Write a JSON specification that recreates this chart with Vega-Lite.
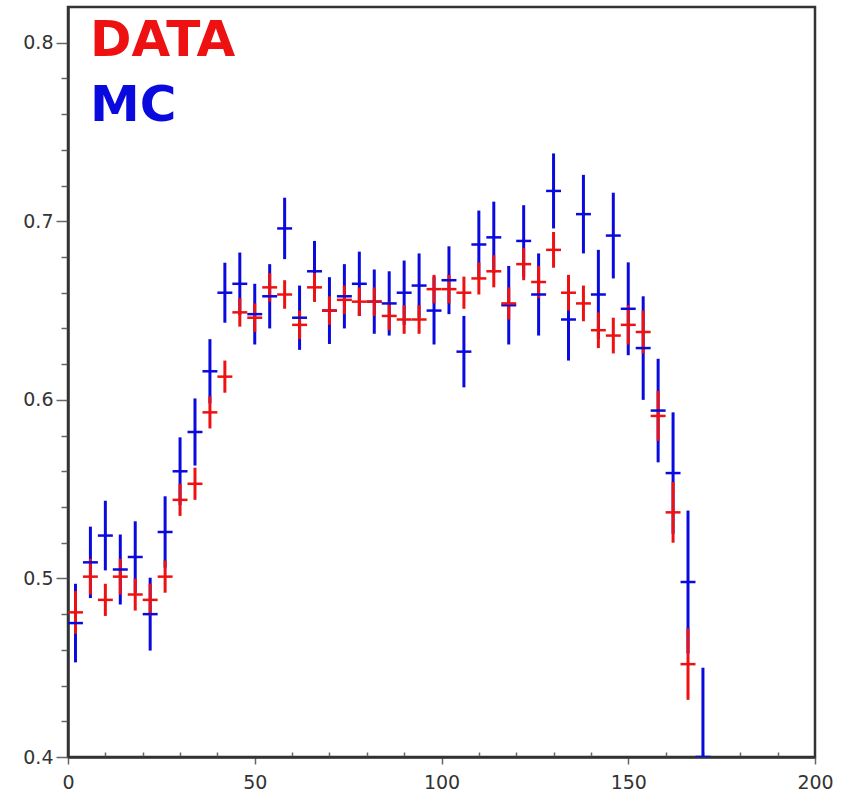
{
  "$schema": "https://vega.github.io/schema/vega-lite/v6.json",
  "width": 747,
  "height": 750,
  "autosize": {"type": "none"},
  "padding": {"left": 68, "top": 7, "right": 27, "bottom": 37},
  "background": "white",
  "config": {
    "view": {"stroke": "#333333", "strokeWidth": 2.5},
    "axis": {
      "grid": false,
      "domainColor": "#333333",
      "domainWidth": 2.5,
      "tickColor": "#666666",
      "tickWidth": 1.5,
      "labelColor": "#333333",
      "labelFont": "DejaVu Sans",
      "labelFontSize": 19
    }
  },
  "datasets": {
    "points": [
      {"series": "MC", "x": 2, "y": 0.475, "ey": 0.022, "ex": 2},
      {"series": "MC", "x": 6, "y": 0.509, "ey": 0.020, "ex": 2},
      {"series": "MC", "x": 10, "y": 0.524, "ey": 0.0195, "ex": 2},
      {"series": "MC", "x": 14, "y": 0.505, "ey": 0.0196, "ex": 2},
      {"series": "MC", "x": 18, "y": 0.512, "ey": 0.020, "ex": 2},
      {"series": "MC", "x": 22, "y": 0.480, "ey": 0.0204, "ex": 2},
      {"series": "MC", "x": 26, "y": 0.526, "ey": 0.020, "ex": 2},
      {"series": "MC", "x": 30, "y": 0.560, "ey": 0.019, "ex": 2},
      {"series": "MC", "x": 34, "y": 0.582, "ey": 0.0188, "ex": 2},
      {"series": "MC", "x": 38, "y": 0.616, "ey": 0.018, "ex": 2},
      {"series": "MC", "x": 42, "y": 0.660, "ey": 0.0168, "ex": 2},
      {"series": "MC", "x": 46, "y": 0.665, "ey": 0.0175, "ex": 2},
      {"series": "MC", "x": 50, "y": 0.648, "ey": 0.017, "ex": 2},
      {"series": "MC", "x": 54, "y": 0.658, "ey": 0.018, "ex": 2},
      {"series": "MC", "x": 58, "y": 0.696, "ey": 0.0172, "ex": 2},
      {"series": "MC", "x": 62, "y": 0.646, "ey": 0.018, "ex": 2},
      {"series": "MC", "x": 66, "y": 0.672, "ey": 0.017, "ex": 2},
      {"series": "MC", "x": 70, "y": 0.650, "ey": 0.0187, "ex": 2},
      {"series": "MC", "x": 74, "y": 0.658, "ey": 0.018, "ex": 2},
      {"series": "MC", "x": 78, "y": 0.665, "ey": 0.018, "ex": 2},
      {"series": "MC", "x": 82, "y": 0.655, "ey": 0.018, "ex": 2},
      {"series": "MC", "x": 86, "y": 0.654, "ey": 0.018, "ex": 2},
      {"series": "MC", "x": 90, "y": 0.660, "ey": 0.018, "ex": 2},
      {"series": "MC", "x": 94, "y": 0.664, "ey": 0.018, "ex": 2},
      {"series": "MC", "x": 98, "y": 0.650, "ey": 0.019, "ex": 2},
      {"series": "MC", "x": 102, "y": 0.667, "ey": 0.019, "ex": 2},
      {"series": "MC", "x": 106, "y": 0.627, "ey": 0.020, "ex": 2},
      {"series": "MC", "x": 110, "y": 0.687, "ey": 0.019, "ex": 2},
      {"series": "MC", "x": 114, "y": 0.691, "ey": 0.020, "ex": 2},
      {"series": "MC", "x": 118, "y": 0.653, "ey": 0.022, "ex": 2},
      {"series": "MC", "x": 122, "y": 0.689, "ey": 0.020, "ex": 2},
      {"series": "MC", "x": 126, "y": 0.659, "ey": 0.023, "ex": 2},
      {"series": "MC", "x": 130, "y": 0.717, "ey": 0.021, "ex": 2},
      {"series": "MC", "x": 134, "y": 0.645, "ey": 0.023, "ex": 2},
      {"series": "MC", "x": 138, "y": 0.704, "ey": 0.022, "ex": 2},
      {"series": "MC", "x": 142, "y": 0.659, "ey": 0.025, "ex": 2},
      {"series": "MC", "x": 146, "y": 0.692, "ey": 0.024, "ex": 2},
      {"series": "MC", "x": 150, "y": 0.651, "ey": 0.026, "ex": 2},
      {"series": "MC", "x": 154, "y": 0.629, "ey": 0.029, "ex": 2},
      {"series": "MC", "x": 158, "y": 0.594, "ey": 0.029, "ex": 2},
      {"series": "MC", "x": 162, "y": 0.559, "ey": 0.034, "ex": 2},
      {"series": "MC", "x": 166, "y": 0.498, "ey": 0.040, "ex": 2},
      {"series": "MC", "x": 170, "y": 0.400, "ey": 0.050, "ex": 2},
      {"series": "DATA", "x": 2, "y": 0.481, "ey": 0.012, "ex": 2},
      {"series": "DATA", "x": 6, "y": 0.501, "ey": 0.010, "ex": 2},
      {"series": "DATA", "x": 10, "y": 0.488, "ey": 0.009, "ex": 2},
      {"series": "DATA", "x": 14, "y": 0.501, "ey": 0.010, "ex": 2},
      {"series": "DATA", "x": 18, "y": 0.491, "ey": 0.009, "ex": 2},
      {"series": "DATA", "x": 22, "y": 0.488, "ey": 0.009, "ex": 2},
      {"series": "DATA", "x": 26, "y": 0.501, "ey": 0.009, "ex": 2},
      {"series": "DATA", "x": 30, "y": 0.544, "ey": 0.009, "ex": 2},
      {"series": "DATA", "x": 34, "y": 0.553, "ey": 0.009, "ex": 2},
      {"series": "DATA", "x": 38, "y": 0.593, "ey": 0.009, "ex": 2},
      {"series": "DATA", "x": 42, "y": 0.613, "ey": 0.009, "ex": 2},
      {"series": "DATA", "x": 46, "y": 0.649, "ey": 0.008, "ex": 2},
      {"series": "DATA", "x": 50, "y": 0.646, "ey": 0.008, "ex": 2},
      {"series": "DATA", "x": 54, "y": 0.663, "ey": 0.008, "ex": 2},
      {"series": "DATA", "x": 58, "y": 0.659, "ey": 0.008, "ex": 2},
      {"series": "DATA", "x": 62, "y": 0.642, "ey": 0.008, "ex": 2},
      {"series": "DATA", "x": 66, "y": 0.663, "ey": 0.008, "ex": 2},
      {"series": "DATA", "x": 70, "y": 0.650, "ey": 0.008, "ex": 2},
      {"series": "DATA", "x": 74, "y": 0.656, "ey": 0.008, "ex": 2},
      {"series": "DATA", "x": 78, "y": 0.655, "ey": 0.008, "ex": 2},
      {"series": "DATA", "x": 82, "y": 0.655, "ey": 0.008, "ex": 2},
      {"series": "DATA", "x": 86, "y": 0.647, "ey": 0.008, "ex": 2},
      {"series": "DATA", "x": 90, "y": 0.645, "ey": 0.008, "ex": 2},
      {"series": "DATA", "x": 94, "y": 0.645, "ey": 0.008, "ex": 2},
      {"series": "DATA", "x": 98, "y": 0.662, "ey": 0.008, "ex": 2},
      {"series": "DATA", "x": 102, "y": 0.662, "ey": 0.008, "ex": 2},
      {"series": "DATA", "x": 106, "y": 0.660, "ey": 0.009, "ex": 2},
      {"series": "DATA", "x": 110, "y": 0.668, "ey": 0.009, "ex": 2},
      {"series": "DATA", "x": 114, "y": 0.672, "ey": 0.009, "ex": 2},
      {"series": "DATA", "x": 118, "y": 0.654, "ey": 0.009, "ex": 2},
      {"series": "DATA", "x": 122, "y": 0.676, "ey": 0.009, "ex": 2},
      {"series": "DATA", "x": 126, "y": 0.666, "ey": 0.009, "ex": 2},
      {"series": "DATA", "x": 130, "y": 0.684, "ey": 0.010, "ex": 2},
      {"series": "DATA", "x": 134, "y": 0.660, "ey": 0.010, "ex": 2},
      {"series": "DATA", "x": 138, "y": 0.654, "ey": 0.010, "ex": 2},
      {"series": "DATA", "x": 142, "y": 0.639, "ey": 0.010, "ex": 2},
      {"series": "DATA", "x": 146, "y": 0.636, "ey": 0.010, "ex": 2},
      {"series": "DATA", "x": 150, "y": 0.642, "ey": 0.011, "ex": 2},
      {"series": "DATA", "x": 154, "y": 0.638, "ey": 0.012, "ex": 2},
      {"series": "DATA", "x": 158, "y": 0.591, "ey": 0.014, "ex": 2},
      {"series": "DATA", "x": 162, "y": 0.537, "ey": 0.017, "ex": 2},
      {"series": "DATA", "x": 166, "y": 0.452, "ey": 0.020, "ex": 2}
    ],
    "labels": [
      {"series": "DATA", "label": "DATA", "x": 5.9, "y": 0.7927},
      {"series": "MC", "label": "MC", "x": 5.9, "y": 0.7564}
    ]
  },
  "encoding": {
    "x": {
      "field": "x", "type": "quantitative",
      "scale": {"domain": [0, 200], "nice": false},
      "axis": {
        "title": null,
        "labelOverlap": false,
        "labelFlush": false,
        "labelPadding": 9,
        "values": [0,10,20,30,40,50,60,70,80,90,100,110,120,130,140,150,160,170,180,190,200],
        "labelExpr": "datum.value % 50 == 0 ? datum.label : ''",
        "tickSize": {"condition": {"test": "datum.value % 50 == 0", "value": 7}, "value": -5}
      }
    },
    "y": {
      "field": "y", "type": "quantitative",
      "scale": {"domain": [0.4, 0.82], "nice": false, "zero": false},
      "axis": {
        "title": null,
        "labelOverlap": false,
        "labelFlush": false,
        "labelPadding": 3,
        "values": [0.4,0.42,0.44,0.46,0.48,0.5,0.52,0.54,0.56,0.58,0.6,0.62,0.64,0.66,0.68,0.7,0.72,0.74,0.76,0.78,0.8],
        "labelExpr": "abs(datum.value*10 - round(datum.value*10)) < 0.001 ? format(datum.value, '.1f') : ''",
        "tickSize": {"condition": {"test": "abs(datum.value*10 - round(datum.value*10)) < 0.001", "value": 12}, "value": 7}
      }
    },
    "color": {
      "field": "series", "type": "nominal",
      "scale": {"domain": ["DATA", "MC"], "range": ["#ee1111", "#0a0adf"]},
      "legend": null
    }
  },
  "layer": [
    {
      "data": {"name": "points"},
      "mark": {"type": "errorbar", "ticks": false, "thickness": 3, "clip": true},
      "encoding": {"yError": {"field": "ey"}}
    },
    {
      "data": {"name": "points"},
      "mark": {"type": "errorbar", "ticks": false, "thickness": 2.5, "clip": true},
      "encoding": {"xError": {"field": "ex"}}
    },
    {
      "data": {"name": "labels"},
      "mark": {"type": "text", "align": "left", "baseline": "alphabetic", "font": "Comic Sans MS, DejaVu Sans", "fontWeight": "bold", "fontSize": 50},
      "encoding": {"text": {"field": "label"}}
    }
  ]
}
